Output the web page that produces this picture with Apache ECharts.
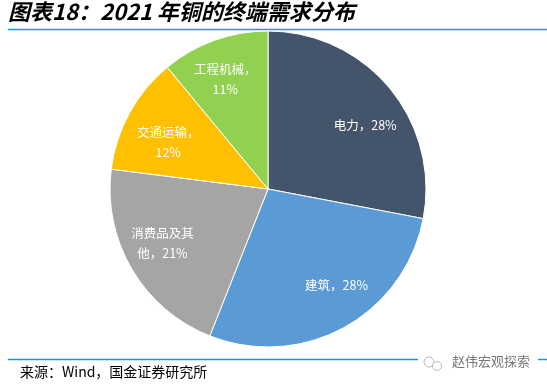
<!DOCTYPE html>
<html>
<head>
<meta charset="utf-8">
<script src="https://cdn.jsdelivr.net/npm/echarts@6/dist/echarts.min.js"></script>
<style>
html,body{margin:0;padding:0;background:#fff;}
#chart{width:547px;height:389px;}
</style>
</head>
<body>
<div id="chart"></div>
<script>
const categories = ['电力', '建筑', '消费品及其他', '交通运输', '工程机械'];
const values = [28, 28, 21, 12, 11];
const labelTexts = ['电力，28%', '建筑，28%', '消费品及其\n他，21%', '交通运输，\n12%', '工程机械，\n11%'];
const colors = ['#44546a', '#5b9bd5', '#a5a5a5', '#ffc000', '#92d050'];
const labelOffsets = [[34, -11], [29, 24], [-35, 13], [-28, -7], [-15, -33]];

const chart = echarts.init(document.getElementById('chart'), null, {renderer: 'canvas'});
const cjk = '"Noto Sans CJK SC", "Noto Sans", sans-serif';

chart.setOption({
  animation: false,
  backgroundColor: '#fff',
  graphic: [
    {type: 'text', left: 8, top: 1, style: {text: '图表18：2021 年铜的终端需求分布', font: 'italic bold 22px ' + cjk, fill: '#000'}},
    {type: 'line', shape: {x1: 8, y1: 29.5, x2: 547, y2: 29.5}, style: {stroke: '#00a0e9', lineWidth: 1.5}},
    {type: 'line', shape: {x1: 8, y1: 359.5, x2: 547, y2: 359.5}, style: {stroke: '#00a0e9', lineWidth: 1.5}},
    {type: 'text', left: 20, top: 365, style: {text: '来源：Wind，国金证券研究所', font: '14px ' + cjk, fill: '#000'}},
    {type: 'rect', shape: {x: 418, y: 352, width: 120, height: 22}, style: {fill: '#fff'}},
    {type: 'circle', shape: {cx: 429, cy: 362, r: 5}, style: {fill: 'none', stroke: '#bbb', lineWidth: 1}},
    {type: 'circle', shape: {cx: 437, cy: 366, r: 4.5}, style: {fill: '#fff', stroke: '#bbb', lineWidth: 1}},
    {type: 'text', left: 452, top: 355, style: {text: '赵伟宏观探索', font: '13px ' + cjk, fill: '#777'}}
  ],
  series: [{
    type: 'pie',
    center: [268, 189],
    radius: [0, 158],
    startAngle: 90,
    clockwise: true,
    silent: true,
    data: categories.map((c, i) => ({name: c, value: values[i], itemStyle: {color: colors[i]}})),
    itemStyle: {borderColor: '#fff', borderWidth: 1},
    label: {
      show: true,
      position: 'inside',
      color: '#fff',
      fontSize: 12.5,
      fontFamily: cjk,
      lineHeight: 20,
      align: 'center',
      formatter: p => labelTexts[p.dataIndex]
    },
    labelLine: {show: false},
    labelLayout: p => ({dx: labelOffsets[p.dataIndex][0], dy: labelOffsets[p.dataIndex][1]})
  }]
});
</script>
</body>
</html>
